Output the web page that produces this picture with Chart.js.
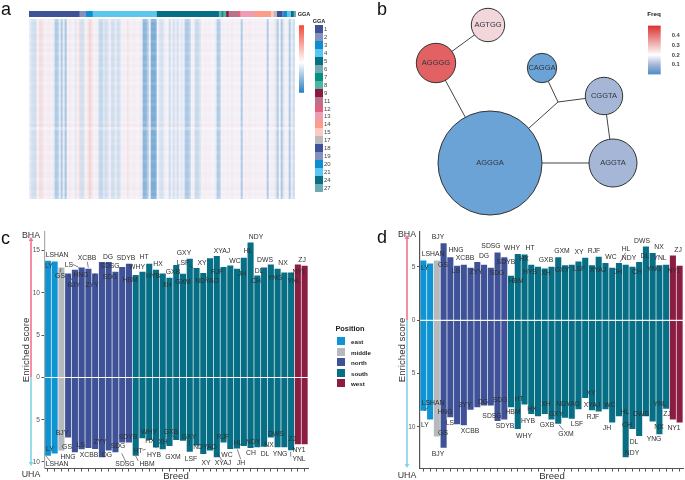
<!DOCTYPE html>
<html>
<head>
<meta charset="utf-8">
<title>Selection signatures</title>
<script src="https://cdn.jsdelivr.net/npm/chart.js@4"></script>
<style>
  html, body { margin: 0; background: #fff; }
  body { position: relative; width: 685px; height: 480px; overflow: hidden; font-family: "Liberation Sans", sans-serif; color: #333; filter: blur(0.3px); }
  canvas { position: absolute; }
  .txt { position: absolute; white-space: nowrap; line-height: 1; }
</style>
</head>
<body>
<script>
// Panel a: column scores of the heatmap, left to right
const heatColumns = [
  -0.4, -1.2, -1.6, -1.5, 0.1, 1.1, 1.2, 0.4, 0.2, 0.3, 0.4, 0.1, -0.6, -3, -2.8, -0.6, -3, -0.6, -3.4, 0.1,
  0.5, 0.2, 0.1, -0.8, 0.2, 1.2, -1.6, -1.2, 0.1, 0.5, 1.8, 0.9, 0.1, 0.2, -0.3, -2, -2.1, -1, -1.5, -1.2,
  0.2, -1.4, -1.6, -0.6, -1.5, -1.3, 0.1, 0.3, 0.1, 0.8, 0.3, 0.1, 0.4, 0.2, 0.1, 0.3, -0.5, -4.5, -4.4, -3,
  0.2, -5, -5.2, -4.8, 0, -1, -1.5, -0.8, 0.1, 0.1, -1.6, -0.3, -1.4, -0.5, -1.4, -0.3, -0.8, -0.4, -3, -3.1,
  -2.4, 0.1, 0.2, -1.8, -1.9, -1.2, 0.2, 0.1, 0.3, 0.1, 0.2, 0.1, 0, -0.5, -3, -2.6, 0.1, 0.2, 0.1, 0.3,
  0.1, 0.4, 0.2, 0.1, 0.2, 0.1, -3, 0.2, 0.3, 0.1, 0.5, 0.2, 0.1, 0.3, 0.1, 0.2, 0.1, 0.2, 0.1, -3,
  0.1, 0.2, 0.3, -0.8, -3, 0.1, -3.2, -0.8, 0.1, 0.2, -3, -0.5, -1.5,
];
// Panel a: faint row tint of the heatmap, top to bottom
const heatRows = [
  -0.6, 0.3, -0.2, 0.5, -0.3, 1, 0.2, -0.4, 0.6, -0.2, 0.8, -0.5, 0.2, 0.3, -0.3, 0.5, -0.6, 0.2, 0.4, -0.2,
  0.3, -0.5, 0.6, 0.1, -0.3, 0.4, -0.2, 0.2, -0.4, 0.3, 0.5, -0.2, 0.1, 0.3, -0.4, 0.9, -1.2, 0.4, 0.2, -0.3,
  0.5, -0.2, 0.3, 0.6, -0.4, 0.2, 0.5, -0.3, 0.7, 0.1, -0.2, 0.6, 0.3, -0.4, 0.2, 0.4, 1, -0.3, 0.5, -0.5,
];
const ggaNames = ["1", "2", "3", "4", "5", "6", "7", "8", "9", "11", "12", "13", "14", "15", "17", "18", "19", "20", "21", "24", "27"];
const ggaCounts = [150, 20, 20, 192, 186, 8, 5, 9, 7, 28, 7, 42, 50, 8, 10, 16, 3, 11, 12, 8, 8];
const ggaColors = ["#3f5297", "#8490bd", "#0c8fd0", "#5cc6ee", "#066e85", "#6ea9b5", "#02907f", "#4db5a5", "#8b1a41", "#b8728a", "#e2607f", "#ee9db5", "#fb9d88", "#fdcabf", "#b9bbbe", "#3f5297", "#8490bd", "#0c8fd0", "#5cc6ee", "#066e85", "#6ea9b5"];

// Panel b: the haplotype network (junction is the unlabelled branch point)
const nodeNames = ["AGTGG", "AGGGG", "CAGGA", "CGGTA", "AGGTA", "AGGGA", ""];
const nodeX = [143, 91, 197, 259, 268, 145, 213];
const nodeY = [25, 63, 68, 96, 163, 163, 102];
const nodeSize = [16.7, 19.7, 14.7, 18.7, 24, 52, 0];
const nodeFreq = [0.25, 0.44, 0.02, 0.1, 0.1, 0.02, 0];
const edgeFrom = [0, 1, 5, 2, 3, 3, 5];
const edgeTo = [1, 5, 6, 6, 6, 4, 4];

// Panels c and d: one bar per breed. The fifth north breed carries no label in the picture.
const breeds = ["LY", "LSHAN", "GS", "BJY", "HNG", "LS", "XCBB", "", "ZYY", "DG", "SDSG", "SDG", "SDYB", "HBM", "WHY", "HT", "HYB", "HX", "XH", "GXB", "GXM", "GXY", "LSF", "XY", "NDYAO", "RJF", "XYAJ", "WC", "JH", "HL", "NDY", "CH", "DL", "DWS", "YNG", "NX", "YNL", "NY1", "ZJ"];
const breedPosition = ["east", "east", "middle", "north", "north", "north", "north", "north", "north", "north", "north", "north", "north", "south", "south", "south", "south", "south", "south", "south", "south", "south", "south", "south", "south", "south", "south", "south", "south", "south", "south", "south", "south", "south", "south", "south", "south", "west", "west"];
const positionNames = ["east", "middle", "north", "south", "west"];
const positionColors = ["#0f94d3", "#b7babd", "#3f5297", "#066e85", "#8b1c42"];
const bhaScoreC = [13.8, 13.7, 13, 12.3, 12.75, 13, 12.85, 12.3, 13.65, 13.65, 12.5, 13.05, 13.45, 12.1, 12.5, 13.45, 12.75, 12.3, 11.8, 13.3, 12.25, 14.05, 12.95, 12.35, 14.1, 14.35, 13.05, 13.25, 12.85, 14.15, 15.95, 12.05, 13, 13.35, 12.85, 12.4, 12.4, 13.35, 13.2];
const uhaScoreC = [9.25, 9, 8.65, 7.1, 8.85, 8.5, 8.35, 8.45, 9.45, 8.65, 8.85, 7.7, 7.7, 9.25, 7.2, 7.4, 8.3, 8.5, 8.1, 7.4, 7.5, 8.8, 8.05, 9.05, 8.65, 9.45, 7.7, 8.45, 8.4, 8.1, 8.35, 8.25, 8.2, 7.1, 8.25, 8.25, 8.6, 7.9, 7.9];
const bhaScoreD = [5.6, 5.3, 5.6, 7.2, 5.9, 5.1, 5.2, 4.9, 5.45, 5.2, 4.9, 6.35, 5.9, 4.15, 6.2, 6.15, 5.2, 5, 4.85, 5, 5.9, 5.15, 5.2, 5.5, 5.85, 5.15, 5.95, 5.35, 4.9, 5.35, 5.2, 5, 5.45, 6.9, 6.3, 5.15, 5.2, 6.05, 5.1];
const uhaScoreD = [8.5, 9.3, 10.9, 11.95, 9.1, 9.75, 9.85, 8.4, 8.15, 8, 8, 9.45, 9.3, 8.15, 10.2, 7.9, 8.8, 9, 8.8, 9.3, 9.7, 9.15, 9.25, 8.35, 7.3, 8.45, 8.55, 8.35, 9.6, 9, 12.85, 10.2, 10.85, 9, 9.5, 10.7, 8.3, 9.3, 9.6];

// Where the repelled breed labels sit on the page, and their leader lines
const labelsCTop = { LY: [49, 266], LSHAN: [57, 255], GS: [60, 276], BJY: [74, 285], HNG: [81, 275], LS: [69, 265], XCBB: [87, 258], ZYY: [92, 285], DG: [108, 257], SDSG: [110, 266], SDG: [110, 277], SDYB: [126, 258], HBM: [130, 280], WHY: [137, 267], HT: [144, 257], HYB: [153, 276], HX: [158, 264], XH: [167, 285], GXB: [173, 272], GXM: [183, 282], GXY: [184, 253], LSF: [183, 263], XY: [202, 263], NDYAO: [207, 281], RJF: [217, 272], XYAJ: [222, 251], WC: [235, 261], JH: [242, 274], HL: [248, 251], NDY: [256, 237], CH: [256, 281], DL: [259, 271], DWS: [265, 260], YNG: [275, 278], NX: [283, 263], YNL: [294, 281], NY1: [299, 272], ZJ: [302, 260] };
const labelsCBottom = { LY: [50, 449], LSHAN: [57, 464], GS: [67, 447], BJY: [62, 433], HNG: [68, 457], LS: [81, 445], XCBB: [89, 455], ZYY: [100, 442], DG: [107, 455], SDSG: [125, 464], SDG: [118, 446], SDYB: [128, 437], HBM: [147, 464], WHY: [149, 432], HT: [138, 451], HYB: [154, 455], HX: [150, 441], XH: [163, 442], GXB: [171, 432], GXM: [173, 457], GXY: [189, 437], LSF: [191, 459], XY: [206, 463], NDYAO: [205, 447], RJF: [223, 437], XYAJ: [223, 463], WC: [227, 455], JH: [241, 463], HL: [238, 443], NDY: [253, 442], CH: [251, 453], DL: [265, 454], DWS: [276, 434], YNG: [280, 454], NX: [269, 445], YNL: [299, 459], NY1: [299, 450], ZJ: [292, 439] };
const labelsDTop = { LY: [425, 268], LSHAN: [433, 254], GS: [443, 265], BJY: [438, 237], HNG: [456, 250], LS: [456, 271], XCBB: [465, 258], ZYY: [476, 272], DG: [484, 256], SDSG: [491, 246], SDG: [497, 273], SDYB: [506, 262], HBM: [516, 281], WHY: [512, 248], HT: [530, 248], HX: [524, 259], HYB: [530, 272], XH: [546, 273], GXB: [546, 260], GXM: [562, 251], GXY: [562, 270], LSF: [579, 269], XY: [579, 252], RJF: [594, 251], XYAJ: [598, 270], WC: [611, 257], JH: [618, 272], HL: [626, 249], NDY: [629, 258], CH: [637, 272], DL: [645, 256], DWS: [642, 241], YNG: [654, 269], NX: [659, 247], YNL: [660, 258], NY1: [674, 271], ZJ: [678, 250] };
const labelsDBottom = { LY: [425, 425], LSHAN: [433, 403], GS: [443, 433], BJY: [438, 454], HNG: [445, 412], LS: [450, 423], XCBB: [470, 431], ZYY: [465, 405], DG: [483, 402], SDSG: [492, 416], SDG: [500, 400], SDYB: [505, 426], HBM: [513, 412], WHY: [524, 436], HT: [519, 399], HX: [532, 409], HYB: [528, 421], XH: [546, 404], GXB: [547, 425], GXM: [566, 434], GXY: [556, 414], NDYAO: [568, 404], LSF: [577, 424], XY: [591, 393], XYAJ: [592, 405], RJF: [593, 417], WC: [610, 405], JH: [607, 428], HL: [625, 412], CH: [627, 425], DL: [634, 442], NDY: [632, 453], DWS: [641, 414], YNG: [654, 439], NX: [659, 427], YNL: [660, 404], ZJ: [667, 414], NY1: [674, 428] };
const leadersC = [[72.7, 264.3, 78.7, 267.3], [87.3, 261.7, 88.3, 267.7], [68.3, 274.3, 72, 280], [95, 273.3, 92.7, 281], [61, 268.3, 60, 272.3], [189, 265, 193.3, 268.3], [202.7, 273.3, 207.3, 278.3], [291.7, 272.7, 293.3, 276.7], [46, 456, 50, 461], [142.3, 450, 145.7, 449.3], [135.7, 456, 138.3, 461], [121.7, 453.3, 125.7, 461.7], [153.3, 444.3, 156.7, 448.3], [171.7, 435, 176.7, 439.3], [189.3, 440, 189.3, 445.7], [217.3, 452.7, 221.7, 460], [237.3, 449.3, 240.7, 459.3], [290.7, 451.7, 290.7, 456.7]];
const leadersD = [[625.7, 252.7, 620, 262.3], [428.3, 407.3, 424.3, 410.7], [559.3, 425, 563.3, 430]];

Chart.defaults.font.family = "'Liberation Sans', sans-serif";
Chart.defaults.animation = false;
Chart.defaults.responsive = false;
Chart.defaults.plugins.legend.display = false;
Chart.defaults.plugins.tooltip.enabled = false;

// Function to add a canvas at a spot on the page
function addCanvas(left, top, width, height) {
  const canvas = document.createElement("canvas");
  canvas.width = width;
  canvas.height = height;
  canvas.style.left = left + "px";
  canvas.style.top = top + "px";
  canvas.style.width = width + "px";
  canvas.style.height = height + "px";
  document.body.appendChild(canvas);
  return canvas;
}

// Function to add a real text element, centred on x,y unless css says otherwise
function addText(str, x, y, css) {
  const el = document.createElement("div");
  el.className = "txt";
  el.textContent = str;
  el.style.cssText = `left:${x}px;top:${y}px;transform:translate(-50%,-50%);` + css;
  document.body.appendChild(el);
  return el;
}

function mix(a, b, t) {
  return a.map((v, i) => Math.round(v + (b[i] - v) * t));
}

// Heatmap colours: blue below zero, red above
function heatColor(v) {
  const base = [244, 244, 250];
  const c = v < 0 ? mix(base, [42, 127, 193], -v / 8.5) : mix(base, [244, 74, 53], v / 9);
  return `rgb(${c.join(",")})`;
}

// Freq colours run blue, grey-blue, white, red
function freqColor(f) {
  const white = [245, 245, 250];
  const grey = [165, 182, 214];
  let c;
  if (f < 0.1) c = mix([93, 158, 214], grey, f / 0.1);
  else if (f < 0.2) c = mix(grey, white, (f - 0.1) / 0.1);
  else c = mix(white, [221, 60, 60], (f - 0.2) / 0.3);
  return `rgb(${c.join(",")})`;
}

function hiddenScale(extra) {
  return Object.assign({ display: false }, extra);
}

// Panel a: column stripes
function createHeatmap() {
  new Chart(addCanvas(29, 19, 266, 180), {
    type: "bar",
    data: {
      labels: heatColumns.map((v, i) => i),
      datasets: [{ data: heatColumns.map(() => 1), backgroundColor: heatColumns.map(heatColor), barPercentage: 1, categoryPercentage: 1 }],
    },
    options: { scales: { x: hiddenScale(), y: hiddenScale({ min: 0, max: 1 }) } },
  });
  new Chart(addCanvas(29, 19, 266, 180), {
    type: "bar",
    data: {
      labels: heatRows.map((v, i) => i),
      datasets: [{
        data: heatRows.map(() => 1),
        backgroundColor: heatRows.map((v) => (v > 0 ? `rgba(240,110,100,${v * 0.035})` : `rgba(255,255,255,${-v * 0.25})`)),
        barPercentage: 1,
        categoryPercentage: 1,
      }],
    },
    options: { indexAxis: "y", scales: { x: hiddenScale({ min: 0, max: 1 }), y: hiddenScale() } },
  });
  // Chromosome strip above the heatmap
  new Chart(addCanvas(29, 11, 267, 6), {
    type: "bar",
    data: {
      labels: ["GGA"],
      datasets: ggaCounts.map((n, i) => ({ label: ggaNames[i], data: [n], backgroundColor: ggaColors[i], barPercentage: 1, categoryPercentage: 1 })),
    },
    options: {
      indexAxis: "y",
      scales: { x: hiddenScale({ stacked: true, min: 0, max: 800 }), y: hiddenScale({ stacked: true }) },
    },
  });
}

// A colour key as a single floating bar with a gradient, labelled by a real axis
function createColorBar(box, barWidth, min, max, tickValues, stops, tickFont) {
  new Chart(addCanvas(box[0], box[1], box[2], box[3]), {
    type: "bar",
    data: {
      labels: ["key"],
      datasets: [{
        data: [[min, max]],
        barPercentage: 1,
        categoryPercentage: 1,
        backgroundColor: (ctx) => {
          const area = ctx.chart.chartArea;
          if (!area) return "#ccc";
          const g = ctx.chart.ctx.createLinearGradient(0, area.bottom, 0, area.top);
          stops.forEach((s) => g.addColorStop(s[0], s[1]));
          return g;
        },
      }],
    },
    options: {
      scales: {
        x: hiddenScale(),
        y: {
          position: "right",
          min: min,
          max: max,
          afterBuildTicks: (s) => { s.ticks = tickValues.map((v) => ({ value: v })); },
          afterFit: (s) => { s.width = box[2] - barWidth; },
          grid: { display: false },
          border: { display: false },
          ticks: { font: tickFont, color: "#444", padding: 3 },
        },
      },
    },
  });
}

// Panel b: bubbles for the haplotypes, a line dataset for the links
function createNetwork() {
  const edges = [];
  edgeFrom.forEach((a, i) => {
    edges.push({ x: nodeX[a], y: nodeY[a] }, { x: nodeX[edgeTo[i]], y: nodeY[edgeTo[i]] }, { x: NaN, y: NaN });
  });
  const nodeLabels = {
    id: "nodeLabels",
    afterDatasetsDraw(chart) {
      const { ctx, scales } = chart;
      ctx.save();
      ctx.font = "7.5px 'Liberation Sans'";
      ctx.fillStyle = "#2f3440";
      ctx.textAlign = "center";
      ctx.textBaseline = "middle";
      nodeNames.forEach((n, i) => ctx.fillText(n, scales.x.getPixelForValue(nodeX[i]), scales.y.getPixelForValue(nodeY[i])));
      ctx.restore();
    },
  };
  new Chart(addCanvas(345, 0, 300, 222), {
    data: {
      datasets: [
        {
          type: "bubble",
          order: 1,
          data: nodeNames.map((n, i) => ({ x: nodeX[i], y: nodeY[i], r: nodeSize[i] })),
          backgroundColor: nodeFreq.map(freqColor),
          borderColor: "#333",
          borderWidth: nodeSize.map((r) => (r > 0 ? 1 : 0)),
        },
        {
          type: "line",
          order: 2,
          data: edges,
          spanGaps: false,
          borderColor: "#444",
          borderWidth: 1,
          pointRadius: 0,
        },
      ],
    },
    options: {
      clip: false,
      layout: { autoPadding: false },
      scales: { x: hiddenScale({ type: "linear", min: 0, max: 300 }), y: hiddenScale({ type: "linear", reverse: true, min: 0, max: 222 }) },
    },
    plugins: [nodeLabels],
  });
}

// Panels c and d: enriched score bars with repelled labels
function createBreedChart(cfg) {
  const barColors = breedPosition.map((p) => positionColors[positionNames.indexOf(p)]);
  const barStyle = { backgroundColor: barColors, barPercentage: 0.9, categoryPercentage: 1 };
  const decorations = {
    id: "decorations",
    afterDatasetsDraw(chart) {
      const { ctx, scales } = chart;
      const dx = cfg.left, dy = cfg.top;
      ctx.save();
      // arrow along the score axis, pink for BHA and cyan for UHA
      const zero = scales.y.getPixelForValue(0);
      const ax = cfg.arrowX - dx;
      ctx.lineWidth = 1.6;
      ctx.strokeStyle = ctx.fillStyle = "#f2728c";
      ctx.beginPath(); ctx.moveTo(ax, zero); ctx.lineTo(ax, cfg.arrowTop - dy); ctx.stroke();
      ctx.beginPath(); ctx.moveTo(ax, cfg.arrowTop - dy - 3); ctx.lineTo(ax - 2.4, cfg.arrowTop - dy + 1); ctx.lineTo(ax + 2.4, cfg.arrowTop - dy + 1); ctx.fill();
      ctx.strokeStyle = ctx.fillStyle = "#7fd3e8";
      ctx.beginPath(); ctx.moveTo(ax, zero); ctx.lineTo(ax, cfg.arrowBottom - dy); ctx.stroke();
      ctx.beginPath(); ctx.moveTo(ax, cfg.arrowBottom - dy + 3); ctx.lineTo(ax - 2.4, cfg.arrowBottom - dy - 1); ctx.lineTo(ax + 2.4, cfg.arrowBottom - dy - 1); ctx.fill();
      // leader lines
      ctx.strokeStyle = "#333";
      ctx.lineWidth = 0.6;
      cfg.leaders.forEach((l) => {
        ctx.beginPath(); ctx.moveTo(l[0] - dx, l[1] - dy); ctx.lineTo(l[2] - dx, l[3] - dy); ctx.stroke();
      });
      // breed labels
      ctx.font = "6.8px 'Liberation Sans'";
      ctx.fillStyle = "#2e2e2e";
      ctx.textAlign = "center";
      ctx.textBaseline = "middle";
      [cfg.labelsTop, cfg.labelsBottom].forEach((spots) => {
        Object.keys(spots).forEach((name) => ctx.fillText(name, spots[name][0] - dx, spots[name][1] - dy));
      });
      ctx.restore();
    },
  };
  new Chart(addCanvas(cfg.left, cfg.top, cfg.width, 255), {
    type: "bar",
    data: {
      labels: breeds,
      datasets: [
        Object.assign({ label: "BHA", data: cfg.bha }, barStyle),
        Object.assign({ label: "UHA", data: cfg.uha.map((v) => -v) }, barStyle),
      ],
    },
    options: {
      layout: { padding: { top: 7, right: cfg.padRight, bottom: 6.5, left: 0 } },
      scales: {
        x: {
          stacked: true,
          afterFit: (s) => { s.height = 5; },
          grid: { offset: false, drawOnChartArea: false, tickColor: "#555", tickLength: 3 },
          border: { color: "#555", width: 1 },
          ticks: { display: false, autoSkip: false, maxRotation: 0 },
        },
        y: {
          stacked: true,
          min: cfg.min,
          max: cfg.max,
          afterBuildTicks: (s) => { s.ticks = cfg.ticks.map((v) => ({ value: v })); },
          afterFit: (s) => { s.width = cfg.axisWidth; },
          grid: {
            z: 1,
            color: (ctx) => (ctx.tick && ctx.tick.value === 0 ? "rgba(255,255,255,0.85)" : "transparent"),
            lineWidth: 1,
            tickColor: "#555",
            tickLength: 3,
          },
          // border has to draw after the grid, it needs the position the grid works out
          border: { z: 2, color: cfg.axisColor, width: 1.2 },
          ticks: { font: { size: 6.6 }, color: "#555", padding: 1.5, callback: (v) => Math.abs(v) },
        },
      },
    },
    plugins: [decorations],
  });
}

// Texts that sit outside the charts
function addPageText() {
  [["a", 1, 0], ["b", 377, 0], ["c", 1, 229], ["d", 377, 228]].forEach((p) => {
    addText(p[0], p[1], p[2], "transform:none;font-size:18px;color:#111;");
  });
  addText("GGA", 304, 14, "font:bold 5.6px 'Liberation Sans';color:#222;");
  addText("GGA", 319, 20.5, "font:bold 5.6px 'Liberation Sans';color:#222;");
  ggaNames.forEach((n, i) => {
    const top = 25 + i * 7.95;
    const sw = document.createElement("div");
    sw.style.cssText = `position:absolute;left:315px;top:${top}px;width:8px;height:8px;background:${ggaColors[i]};`;
    document.body.appendChild(sw);
    addText(n, 324, top + 4, "transform:translateY(-50%);font-size:6px;color:#444;");
  });
  addText("Freq", 654, 13, "font:bold 6.2px 'Liberation Sans';color:#222;");

  addText("Position", 350, 328, "font:bold 7.4px 'Liberation Sans';color:#222;");
  positionNames.forEach((n, i) => {
    const top = 337 + i * 10.6;
    const sw = document.createElement("div");
    sw.style.cssText = `position:absolute;left:337px;top:${top}px;width:8px;height:8px;background:${positionColors[i]};`;
    document.body.appendChild(sw);
    addText(n, 351, top + 4, "transform:translateY(-50%);font:bold 6.2px 'Liberation Sans';color:#222;");
  });

  [[31, 235, 474, 26, 176], [407, 234, 475, 402, 552]].forEach((p) => {
    addText("BHA", p[0], p[1], "font-size:8.8px;");
    addText("UHA", p[0], p[2], "font-size:8.8px;");
    addText("Enriched score", p[3], 350, "font-size:9.7px;transform:translate(-50%,-50%) rotate(-90deg);");
    addText("Breed", p[4], 475.5, "font-size:9.6px;");
  });
}

createHeatmap();
createColorBar([299, 19, 20, 80], 5, -7.35, 9, [5, 0, -5], [[0, "#2a7fc1"], [0.45, "#ffffff"], [1, "#f44a35"]], { size: 5.6 });
createNetwork();
createColorBar([648, 19, 37, 62], 12.7, 0, 0.5, [0.4, 0.3, 0.2, 0.1], [[0, "#4a8bc7"], [0.2, "#a5b6d6"], [0.4, "#ffffff"], [1, "#d93030"]], { size: 5.8, weight: "bold" });
createBreedChart({
  left: 0, top: 225, width: 335, padRight: 27, axisWidth: 44.5, axisColor: "#aaa",
  min: -10.77, max: 17.2, ticks: [-10, -5, 0, 5, 10, 15],
  bha: bhaScoreC, uha: uhaScoreC, labelsTop: labelsCTop, labelsBottom: labelsCBottom, leaders: leadersC,
  arrowX: 31, arrowTop: 240, arrowBottom: 463,
});
createBreedChart({
  left: 345, top: 225, width: 340, padRight: 2, axisWidth: 75, axisColor: "#555",
  min: -13.9, max: 8.26, ticks: [-10, -5, 0, 5],
  bha: bhaScoreD, uha: uhaScoreD, labelsTop: labelsDTop, labelsBottom: labelsDBottom, leaders: leadersD,
  arrowX: 407, arrowTop: 238, arrowBottom: 465,
});
addPageText();
</script>
</body>
</html>
